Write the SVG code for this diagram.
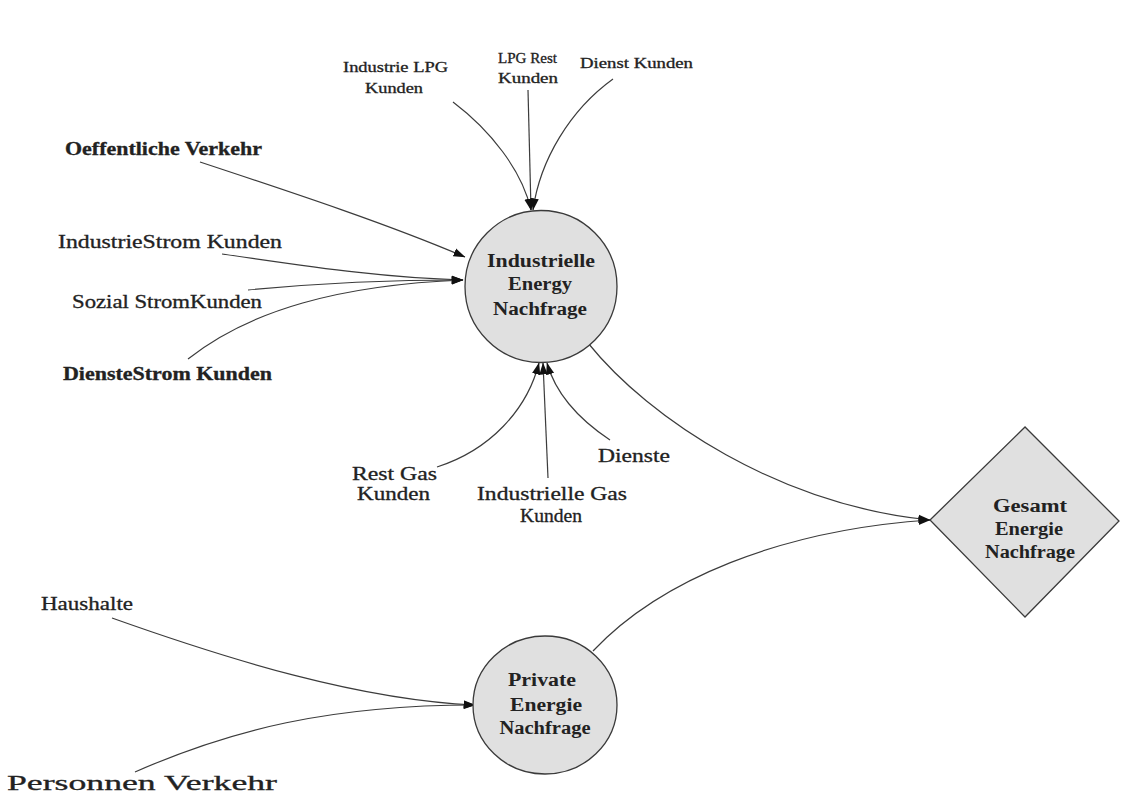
<svg xmlns="http://www.w3.org/2000/svg" width="1122" height="796" viewBox="0 0 1122 796">
  <style>
    .bg { fill: #ffffff; }
    .node { fill: #e0e0e0; stroke: #3a3a3a; stroke-width: 1.3; }
    .edge { fill: none; stroke: #3c3c3c; stroke-width: 1.2; marker-end: url(#arrow); }
    .lbl { font-family: "Liberation Serif", "Times New Roman", serif; fill: #222; stroke: #222; stroke-width: 0.3; }
    .big { font-size: 18px; }
    .small { font-size: 14px; }
    .nlbl { font-family: "Liberation Serif", "Times New Roman", serif; font-size: 18px; font-weight: bold; fill: #222; text-anchor: middle; }
  </style>
  <defs>
    <marker id="arrow" viewBox="0 0 12 10" refX="11.5" refY="5" markerWidth="12" markerHeight="10" markerUnits="userSpaceOnUse" orient="auto">
      <path d="M0,0.8 L12,5 L0,9.2 Z" fill="#111"/>
    </marker>
  </defs>

  <rect class="bg" x="0" y="0" width="1122" height="796"/>

  <!-- connectors -->
  <g id="connectors">
    <path class="edge" d="M200,162 C300,195 390,225 465,257"/>
    <path class="edge" d="M222,254 C300,265 380,278 463,280"/>
    <path class="edge" d="M248,290 C320,283 390,280 463,280"/>
    <path class="edge" d="M188,359 C250,310 340,285 463,280"/>
    <path class="edge" d="M453,102 C490,130 522,170 531,210"/>
    <path class="edge" d="M528,90 L531,210"/>
    <path class="edge" d="M613,79 C570,110 540,160 533,210"/>
    <path class="edge" d="M437,467 C490,450 527,410 539,363"/>
    <path class="edge" d="M548,478 L543,363"/>
    <path class="edge" d="M610,440 C580,420 556,395 547,363"/>
    <path class="edge" d="M112,618 C230,660 360,700 475,705"/>
    <path class="edge" d="M135,772 C230,730 330,705 475,705"/>
    <path class="edge" d="M588,343 C650,420 780,505 930,520"/>
    <path class="edge" d="M593,651 C660,580 780,530 930,520"/>
  </g>

  <!-- central demand nodes -->
  <g id="industrielle">
    <circle class="node" cx="541" cy="286.5" r="76"/>
    <text class="nlbl" x="541" y="267" textLength="108" lengthAdjust="spacingAndGlyphs">Industrielle</text>
    <text class="nlbl" x="540" y="290" textLength="64" lengthAdjust="spacingAndGlyphs">Energy</text>
    <text class="nlbl" x="540" y="315" textLength="94" lengthAdjust="spacingAndGlyphs">Nachfrage</text>
  </g>

  <g id="private">
    <ellipse class="node" cx="545" cy="705" rx="72" ry="69"/>
    <text class="nlbl" x="542" y="686" textLength="68" lengthAdjust="spacingAndGlyphs">Private</text>
    <text class="nlbl" x="546" y="711" textLength="72" lengthAdjust="spacingAndGlyphs">Energie</text>
    <text class="nlbl" x="545" y="734" textLength="91" lengthAdjust="spacingAndGlyphs">Nachfrage</text>
  </g>

  <g id="gesamt">
    <polygon class="node" points="930,520 1025,427 1119,521 1025,617"/>
    <text class="nlbl" x="1030" y="512" textLength="74" lengthAdjust="spacingAndGlyphs">Gesamt</text>
    <text class="nlbl" x="1029" y="535" textLength="68" lengthAdjust="spacingAndGlyphs">Energie</text>
    <text class="nlbl" x="1030" y="558" textLength="90" lengthAdjust="spacingAndGlyphs">Nachfrage</text>
  </g>

  <!-- source labels -->
  <g id="oeffentliche"><text class="lbl big" x="65" y="155" textLength="197" lengthAdjust="spacingAndGlyphs" style="font-weight:bold">Oeffentliche Verkehr</text></g>
  <g id="industriestrom"><text class="lbl big" x="58" y="248" textLength="224" lengthAdjust="spacingAndGlyphs">IndustrieStrom Kunden</text></g>
  <g id="sozialstrom"><text class="lbl big" x="72" y="308" textLength="190" lengthAdjust="spacingAndGlyphs">Sozial StromKunden</text></g>
  <g id="dienstestrom"><text class="lbl big" x="63" y="380" textLength="209" lengthAdjust="spacingAndGlyphs" style="font-weight:bold">DiensteStrom Kunden</text></g>

  <g id="industrielpg">
    <text class="lbl small" x="343" y="72" textLength="105" lengthAdjust="spacingAndGlyphs">Industrie LPG</text>
    <text class="lbl small" x="365" y="93" textLength="58" lengthAdjust="spacingAndGlyphs">Kunden</text>
  </g>
  <g id="lpgrest">
    <text class="lbl small" x="498" y="63" textLength="59" lengthAdjust="spacingAndGlyphs">LPG Rest</text>
    <text class="lbl small" x="498" y="83" textLength="60" lengthAdjust="spacingAndGlyphs">Kunden</text>
  </g>
  <g id="dienstkunden"><text class="lbl small" x="580" y="68" textLength="113" lengthAdjust="spacingAndGlyphs">Dienst Kunden</text></g>

  <g id="restgas">
    <text class="lbl big" x="352" y="480" textLength="85" lengthAdjust="spacingAndGlyphs">Rest Gas</text>
    <text class="lbl big" x="357" y="500" textLength="73" lengthAdjust="spacingAndGlyphs">Kunden</text>
  </g>
  <g id="industriellegas">
    <text class="lbl big" x="477" y="500" textLength="150" lengthAdjust="spacingAndGlyphs">Industrielle Gas</text>
    <text class="lbl big" x="520" y="522" textLength="62" lengthAdjust="spacingAndGlyphs">Kunden</text>
  </g>
  <g id="dienste"><text class="lbl big" x="598" y="462" textLength="72" lengthAdjust="spacingAndGlyphs">Dienste</text></g>

  <g id="haushalte"><text class="lbl big" x="41" y="610" textLength="92" lengthAdjust="spacingAndGlyphs">Haushalte</text></g>
  <g id="personnenverkehr"><text class="lbl" x="7" y="790" textLength="270" lengthAdjust="spacingAndGlyphs" style="font-size:21px">Personnen Verkehr</text></g>
</svg>
